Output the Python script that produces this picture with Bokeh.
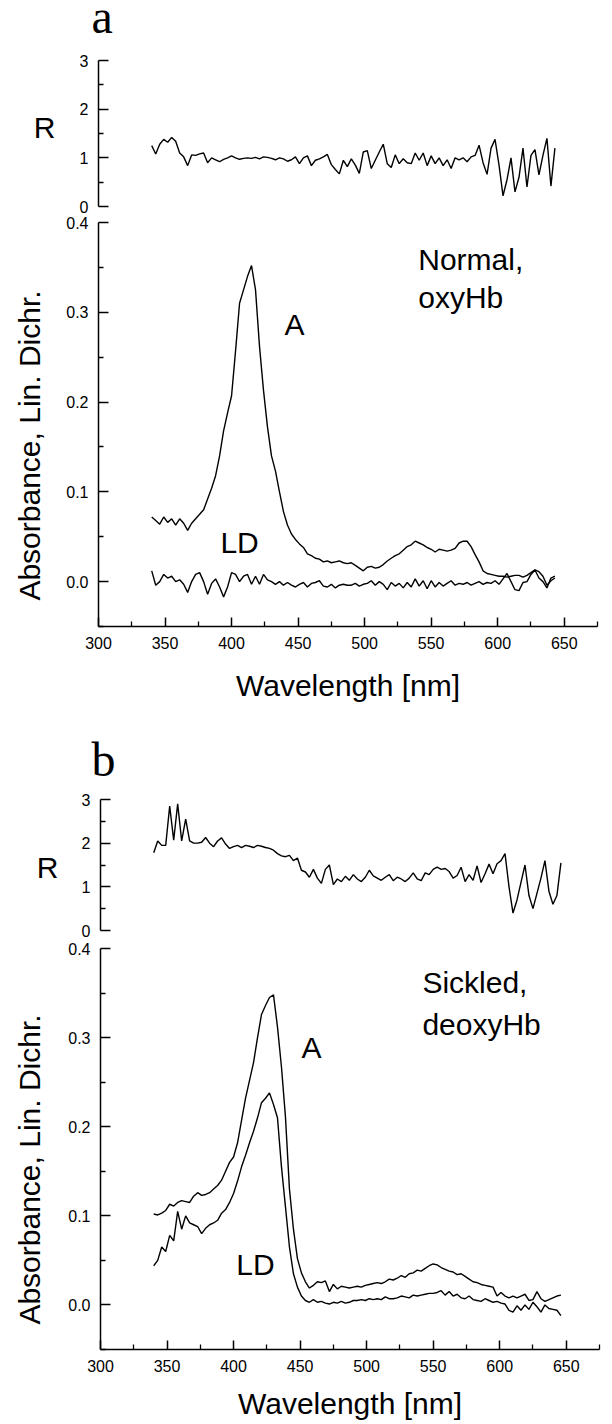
import math
from bokeh.plotting import figure
from bokeh.layouts import column, row
from bokeh.models import Range1d, FixedTicker, Label, NumeralTickFormatter
from bokeh.embed import file_html
from bokeh.resources import INLINE

# ---------------- data ----------------
WL = [340, 343, 346, 349, 352, 355, 358, 361, 364, 367,
      370, 373, 376, 379, 382, 385, 388, 391, 394, 397,
      400, 403, 406, 409, 412, 415, 418, 421, 424, 427,
      430, 433, 436, 439, 442, 445, 448, 451, 454, 457,
      460, 463, 466, 469, 472, 475, 478, 481, 484, 487,
      490, 493, 496, 499, 502, 505, 508, 511, 514, 517,
      520, 523, 526, 529, 532, 535, 538, 541, 544, 547,
      550, 553, 556, 559, 562, 565, 568, 571, 574, 577,
      580, 583, 586, 589, 592, 595, 598, 601, 604, 607,
      610, 613, 616, 619, 622, 625, 628, 631, 634, 637,
      640, 643, 646]
WL_A = WL[:-1]

# panel a: normal, oxyHb
R_A = [1.25, 1.08, 1.28, 1.38, 1.32, 1.42, 1.34, 1.10, 1.02, 0.84,
       1.06, 1.05, 1.08, 1.10, 0.90, 1.00, 0.96, 0.92, 0.97, 1.00,
       1.04, 1.00, 0.97, 0.99, 1.00, 0.99, 1.01, 0.98, 1.02, 1.01,
       0.99, 0.96, 1.00, 0.98, 0.93, 0.96, 1.02, 0.88, 1.00, 1.04,
       0.84, 0.95, 0.98, 1.02, 1.07, 0.86, 0.76, 0.67, 0.95, 0.82,
       0.98, 0.85, 0.68, 1.12, 1.15, 0.78, 0.95, 1.12, 1.28, 0.88,
       0.80, 1.06, 0.88, 0.98, 0.90, 0.88, 1.10, 0.95, 1.10, 0.84,
       1.04, 0.88, 1.00, 0.84, 0.96, 0.78, 1.00, 0.96, 1.00, 0.92,
       1.02, 1.05, 1.26, 0.90, 0.66, 1.20, 1.38, 0.85, 0.22, 0.55,
       1.00, 0.30, 0.60, 1.20, 0.40, 1.05, 1.17, 0.65, 1.05, 1.40,
       0.42, 1.20]
A_A = [0.072, 0.068, 0.064, 0.072, 0.066, 0.070, 0.063, 0.070, 0.065, 0.057,
       0.065, 0.070, 0.075, 0.080, 0.092, 0.104, 0.118, 0.140, 0.168, 0.188,
       0.207, 0.257, 0.310, 0.325, 0.340, 0.352, 0.325, 0.262, 0.213, 0.172,
       0.140, 0.123, 0.100, 0.078, 0.063, 0.053, 0.047, 0.042, 0.038, 0.031,
       0.029, 0.026, 0.025, 0.022, 0.023, 0.021, 0.022, 0.023, 0.021, 0.020,
       0.021, 0.018, 0.015, 0.012, 0.016, 0.017, 0.015, 0.016, 0.019, 0.023,
       0.026, 0.029, 0.031, 0.035, 0.039, 0.041, 0.045, 0.043, 0.041, 0.038,
       0.036, 0.033, 0.036, 0.035, 0.034, 0.035, 0.037, 0.043, 0.045, 0.045,
       0.039, 0.030, 0.022, 0.012, 0.009, 0.008, 0.007, 0.006, 0.006, 0.005,
       0.006, 0.007, 0.007, 0.005, 0.007, 0.010, 0.013, 0.011, 0.006, -0.004,
       0.001, 0.004]
LD_A = [0.012, -0.004, 0.000, 0.008, 0.004, 0.006, 0.000, 0.002, -0.003, -0.012,
        0.000, 0.008, 0.010, 0.000, -0.014, -0.002, 0.003, -0.006, -0.017, -0.006,
        0.010, 0.008, 0.000, 0.006, 0.008, -0.003, 0.006, -0.003, 0.008, 0.002,
        0.000, -0.003, 0.000, -0.004, -0.001, -0.004, -0.006, -0.003, -0.001, -0.006,
        -0.002, -0.001, 0.001, -0.005, -0.006, -0.003, -0.007, -0.004, -0.003, -0.004,
        -0.004, -0.002, -0.005, -0.003, -0.002, 0.001, -0.004, 0.000, -0.003, -0.009,
        -0.001, -0.005, -0.002, -0.007, -0.001, -0.006, 0.003, -0.005, 0.001, -0.008,
        0.001, -0.006, -0.001, -0.005, -0.002, 0.001, -0.004, -0.002, -0.003, -0.001,
        -0.004, -0.002, 0.000, -0.003, -0.001, -0.002, 0.001, -0.003, 0.003, 0.009,
        0.000, -0.009, -0.010, -0.001, 0.000, 0.008, 0.013, 0.004, 0.000, -0.007,
        0.004, 0.006]

# panel b: sickled, deoxyHb
R_B = [1.78, 2.05, 1.95, 1.95, 2.85, 2.07, 2.90, 2.05, 2.55, 2.05,
       2.00, 2.00, 2.02, 2.13, 2.00, 1.92, 2.05, 2.12, 1.98, 1.88,
       1.92, 1.95, 1.90, 1.95, 1.93, 1.90, 1.95, 1.93, 1.90, 1.88,
       1.84, 1.76, 1.71, 1.69, 1.72, 1.60, 1.66, 1.38, 1.34, 1.22,
       1.40, 1.20, 1.08, 1.40, 1.50, 1.05, 1.18, 1.12, 1.24, 1.15,
       1.28, 1.18, 1.12, 1.22, 1.38, 1.25, 1.20, 1.15, 1.22, 1.28,
       1.14, 1.22, 1.18, 1.12, 1.20, 1.32, 1.18, 1.14, 1.32, 1.28,
       1.40, 1.45, 1.40, 1.42, 1.35, 1.20, 1.26, 1.45, 1.12, 1.28,
       1.15, 1.48, 1.10, 1.30, 1.52, 1.30, 1.53, 1.60, 1.76, 1.00,
       0.40, 0.70, 1.10, 1.50, 0.80, 0.50, 0.85, 1.20, 1.60, 0.90,
       0.60, 0.80, 1.55]
A_B = [0.102, 0.101, 0.103, 0.106, 0.113, 0.111, 0.115, 0.117, 0.116, 0.115,
       0.122, 0.126, 0.123, 0.124, 0.126, 0.130, 0.134, 0.140, 0.150, 0.160,
       0.166, 0.182, 0.207, 0.232, 0.252, 0.272, 0.300, 0.326, 0.336, 0.345,
       0.348, 0.312, 0.267, 0.211, 0.130, 0.085, 0.052, 0.036, 0.026, 0.019,
       0.022, 0.026, 0.025, 0.027, 0.015, 0.023, 0.018, 0.021, 0.020, 0.019,
       0.020, 0.021, 0.020, 0.022, 0.023, 0.024, 0.025, 0.024, 0.026, 0.029,
       0.028, 0.030, 0.033, 0.031, 0.035, 0.036, 0.039, 0.038, 0.041, 0.044,
       0.046, 0.045, 0.042, 0.040, 0.038, 0.037, 0.034, 0.035, 0.032, 0.029,
       0.026, 0.025, 0.023, 0.022, 0.021, 0.020, 0.010, 0.014, 0.010, 0.008,
       0.010, 0.008, 0.010, 0.012, 0.005, 0.006, 0.015, 0.007, 0.004, 0.006,
       0.008, 0.010, 0.011]
LD_B = [0.044, 0.050, 0.065, 0.060, 0.078, 0.072, 0.105, 0.085, 0.100, 0.092,
        0.090, 0.088, 0.080, 0.086, 0.090, 0.092, 0.095, 0.103, 0.107, 0.115,
        0.125, 0.139, 0.155, 0.168, 0.182, 0.195, 0.210, 0.227, 0.232, 0.238,
        0.225, 0.210, 0.155, 0.110, 0.065, 0.035, 0.020, 0.010, 0.005, 0.003,
        0.006, 0.003, 0.004, 0.002, 0.001, 0.003, 0.002, 0.004, 0.002, 0.003,
        0.005, 0.005, 0.006, 0.005, 0.007, 0.006, 0.007, 0.006, 0.009, 0.007,
        0.007, 0.008, 0.010, 0.009, 0.008, 0.011, 0.010, 0.011, 0.012, 0.013,
        0.013, 0.014, 0.016, 0.011, 0.015, 0.010, 0.012, 0.008, 0.007, 0.010,
        0.006, 0.005, 0.004, 0.007, 0.005, 0.003, 0.004, 0.002, 0.001, -0.006,
        -0.008, -0.001, -0.006, 0.000, -0.005, 0.003, -0.002, -0.008, 0.000, -0.004,
        -0.005, -0.006, -0.012]

X_TICKS = [300, 350, 400, 450, 500, 550, 600, 650]
X_MINOR = [325, 375, 425, 475, 525, 575, 625, 675]
R_TICKS = [0, 1, 2, 3]
R_MINOR = [0.5, 1.5, 2.5]
ABS_TICKS = [0.0, 0.1, 0.2, 0.3, 0.4]
ABS_MINOR = [-0.05, 0.05, 0.15, 0.25, 0.35]

# ---------------- styling helpers ----------------
FONT = "Liberation Sans"
SERIF = "Liberation Serif"
W = 612
STRIP_W = 60
COL_W = W - STRIP_W
FRAME_W = 499
BIG = "30px"


def clean(p):
    p.outline_line_color = None
    p.grid.visible = False
    p.background_fill_color = "white"
    p.border_fill_color = "white"
    return p


def blank_fig(w, h):
    p = figure(width=w, height=h, x_range=Range1d(0, w), y_range=Range1d(0, h),
               min_border_left=0, min_border_right=0, min_border_top=0, min_border_bottom=0,
               output_backend="svg", toolbar_location=None,
               x_axis_location=None, y_axis_location=None)
    return clean(p)


def style_axis(ax, tick_in, minor_in):
    ax.axis_line_color = "black"
    ax.axis_line_width = 1.5
    ax.major_tick_in = tick_in
    ax.major_tick_out = 0
    ax.minor_tick_in = minor_in
    ax.minor_tick_out = 0
    ax.major_tick_line_color = "black"
    ax.major_tick_line_width = 1.5
    ax.minor_tick_line_color = "black"
    ax.minor_tick_line_width = 1.3
    ax.major_label_text_font = FONT
    ax.major_label_text_font_size = "16px"
    ax.major_label_text_color = "black"
    ax.major_label_standoff = 10


def base_fig(height, left, top, bottom, y_range, with_x):
    p = figure(width=COL_W, height=height, x_range=Range1d(300, 675), y_range=y_range,
               min_border_left=left, min_border_right=COL_W - left - FRAME_W,
               min_border_top=top, min_border_bottom=bottom,
               output_backend="svg", toolbar_location=None,
               x_axis_location="below" if with_x else None, y_axis_location="left")
    return clean(p)


def letter_fig(h, letter, lx, ly):
    p = blank_fig(W, h)
    p.add_layout(Label(x=lx, y=ly, text=letter, text_font=SERIF, text_font_size="48px",
                       text_color="black", text_align="left", text_baseline="middle"))
    return p


def strip_fig(h, r_y, abs_y, r_x):
    p = blank_fig(STRIP_W, h)
    p.add_layout(Label(x=r_x, y=r_y, text="R", text_font=FONT, text_font_size=BIG,
                       text_color="black", text_align="center", text_baseline="middle"))
    p.add_layout(Label(x=29, y=abs_y, text="Absorbance, Lin. Dichr.", angle=math.pi / 2,
                       text_font=FONT, text_font_size=BIG, text_color="black",
                       text_align="center", text_baseline="middle"))
    return p


def r_fig(height, left, top, frame_h, wl, r):
    p = base_fig(height, left, top, height - top - frame_h, Range1d(0, 3), False)
    ax = p.yaxis[0]
    style_axis(ax, 10, 5)
    ax.ticker = FixedTicker(ticks=R_TICKS, minor_ticks=R_MINOR)
    ax.formatter = NumeralTickFormatter(format="0")
    p.line(wl, r, line_color="black", line_width=1.4)
    return p


def a_fig(height, left, top, frame_h, wl, a, ld, texts, xlab_standoff):
    p = base_fig(height, left, top, height - top - frame_h, Range1d(-0.05, 0.4), True)
    ay = p.yaxis[0]
    style_axis(ay, 10, 5)
    ay.ticker = FixedTicker(ticks=ABS_TICKS, minor_ticks=ABS_MINOR)
    ay.formatter = NumeralTickFormatter(format="0.0")
    ax = p.xaxis[0]
    style_axis(ax, 9, 5)
    ax.ticker = FixedTicker(ticks=X_TICKS, minor_ticks=X_MINOR)
    ax.formatter = NumeralTickFormatter(format="0")
    ax.axis_label = "Wavelength [nm]"
    ax.axis_label_text_font = FONT
    ax.axis_label_text_font_size = BIG
    ax.axis_label_text_font_style = "normal"
    ax.axis_label_text_color = "black"
    ax.axis_label_standoff = xlab_standoff
    p.line(wl, a, line_color="black", line_width=1.4)
    p.line(wl, ld, line_color="black", line_width=1.4)
    for (tx, ty, t) in texts:
        p.add_layout(Label(x=tx, y=ty, text=t, text_font=FONT, text_font_size=BIG,
                           text_color="black", text_align="left", text_baseline="middle"))
    return p


# ---------------- panel a ----------------
ta = letter_fig(50, "a", 91, 34)
ra = r_fig(164, 38, 10, 146, WL_A, R_A)
aa = a_fig(496, 38, 8, 404, WL_A, A_A, LD_A,
           [(540.3, 0.3593, "Normal,"), (540.3, 0.3164, "oxyHb"),
            (439.7, 0.2864, "A"), (391.6, 0.0435, "LD")], 17)
sa = strip_fig(660, 660 - 77, 660 - 395, 44)

# ---------------- panel b ----------------
tb = letter_fig(80, "b", 91, 31)
rb = r_fig(148, 40, 9, 131, WL, R_B)
ab = a_fig(486, 40, 10, 401, WL, A_B, LD_B,
           [(541.9, 0.3618, "Sickled,"), (541.9, 0.3146, "deoxyHb"),
            (451.0, 0.2888, "A"), (402.1, 0.0449, "LD")], 12)
sb = strip_fig(634, 634 - 77, 634 - 379, 47)

layout = column(ta,
                row(sa, column(ra, aa, spacing=0), spacing=0),
                tb,
                row(sb, column(rb, ab, spacing=0), spacing=0),
                spacing=0)
open("out.html", "w").write(file_html(layout, INLINE))
